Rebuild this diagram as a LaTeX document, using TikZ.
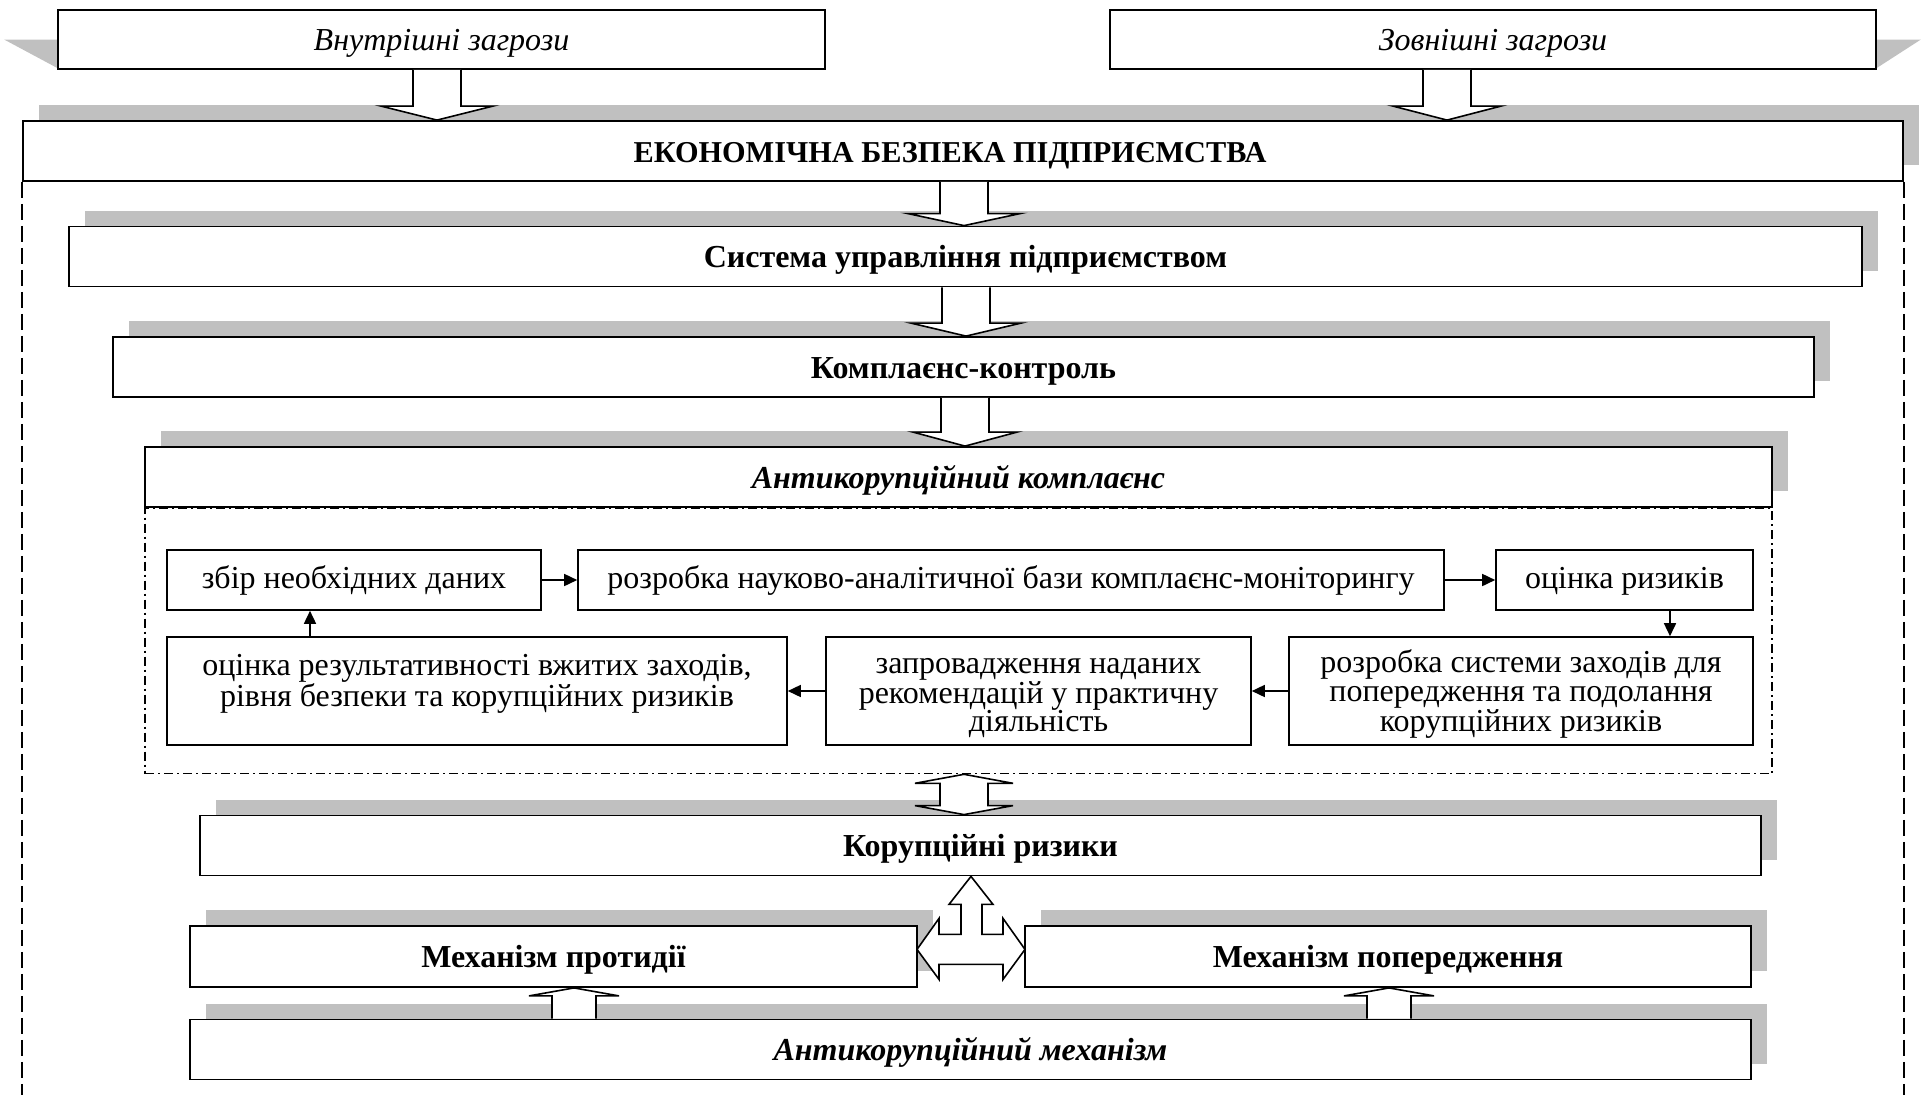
\documentclass[tikz,border=0pt]{standalone}
\usepackage{fontspec}
\setmainfont{Liberation Serif}
\usetikzlibrary{shadows,backgrounds,arrows.meta,calc}
\definecolor{shgray}{RGB}{192,192,192}

% wide block arrow pointing down, from the bottom of #1 to the top of #2
% #3 centre x, #4 half stem width, #5 half head width, #6 head length
\newcommand\downblock[6]{%
  \draw[blockarrow] let \p1=(#1.south), \p2=(#2.north) in
    ({(#3-#4)*1pt},\y1) -- ({(#3-#4)*1pt},{\y2+#6pt}) -- ({(#3-#5)*1pt},{\y2+#6pt})
    -- ({#3*1pt},\y2) -- ({(#3+#5)*1pt},{\y2+#6pt}) -- ({(#3+#4)*1pt},{\y2+#6pt})
    -- ({(#3+#4)*1pt},\y1);}
% wide block arrow pointing up, from the top of #1 to the bottom of #2
\newcommand\upblock[6]{%
  \draw[blockarrow] let \p1=(#1.north), \p2=(#2.south) in
    ({(#3-#4)*1pt},\y1) -- ({(#3-#4)*1pt},{\y2-#6pt}) -- ({(#3-#5)*1pt},{\y2-#6pt})
    -- ({#3*1pt},\y2) -- ({(#3+#5)*1pt},{\y2-#6pt}) -- ({(#3+#4)*1pt},{\y2-#6pt})
    -- ({(#3+#4)*1pt},\y1);}
% wide two-headed vertical arrow between the bottom of #1 and the top of #2
\newcommand\dblblock[6]{%
  \draw[blockarrow] let \p1=(#1.south), \p2=(#2.north) in
    ({#3*1pt},\y1) -- ({(#3+#5)*1pt},{\y1-#6pt}) -- ({(#3+#4)*1pt},{\y1-#6pt})
    -- ({(#3+#4)*1pt},{\y2+#6pt}) -- ({(#3+#5)*1pt},{\y2+#6pt}) -- ({#3*1pt},\y2)
    -- ({(#3-#5)*1pt},{\y2+#6pt}) -- ({(#3-#4)*1pt},{\y2+#6pt})
    -- ({(#3-#4)*1pt},{\y1-#6pt}) -- ({(#3-#5)*1pt},{\y1-#6pt}) -- cycle;}
% taller first line, so that a block of lines sits a little lower in its box
\newcommand\firstline{\rule{0pt}{29pt}}

\begin{document}
\begin{tikzpicture}[x=1pt,y=-1pt,
  box/.style={draw, line width=1.8pt, fill=white, inner sep=0pt, align=center},
  shbox/.style={box, drop shadow={shadow xshift=16pt, shadow yshift=16pt, opacity=1, fill=shgray}},
  oneline/.style={text height=22pt, text depth=0pt},
  ftitle/.style={font=\fontsize{30.3}{34}\selectfont\bfseries, oneline},
  fbold/.style={font=\fontsize{32}{34}\selectfont\bfseries, oneline},
  fbolditalic/.style={font=\fontsize{32}{34}\selectfont\bfseries\itshape, oneline},
  fitalic/.style={font=\fontsize{32}{34}\selectfont\itshape, oneline},
  fplain/.style={font=\fontsize{32}{28.5}\selectfont},
  stage/.style={box, fplain, line width=1.6pt},
  stageone/.style={stage, text height=17pt, text depth=0pt},
  blockarrow/.style={draw=black, line width=1.6pt, fill=white, line join=miter},
  flow/.style={line width=1.6pt, -{Triangle[length=13pt,width=12pt]}},
  outerdash/.style={line width=2pt, dash pattern=on 16pt off 6pt},
  dashdot/.style={draw, line width=1.4pt, dash pattern=on 9pt off 4pt on 2pt off 4pt},
  shadetri/.style={fill=shgray, draw=none}
]
\useasboundingbox (0,0) rectangle (1927,1095);

% threats
\node[box, fitalic, minimum width=767pt, minimum height=59pt] (ein) at (441.5,39.5) {Внутрішні загрози};
\node[box, fitalic, minimum width=766pt, minimum height=59pt] (eout) at (1493,39.5) {Зовнішні загрози};
\begin{pgfonlayer}{background}
  \fill[shadetri] ($(ein.west)+(-53,0)$) -- (ein.west) -- ($(ein.south west)+(0,-2)$) -- cycle;
  \fill[shadetri] ($(eout.east)+(44,0)$) -- (eout.east) -- ($(eout.south east)+(0,-2)$) -- cycle;
\end{pgfonlayer}

% main levels
\node[shbox, ftitle, minimum width=1880pt, minimum height=60pt] (main) at (963,151) {ЕКОНОМІЧНА БЕЗПЕКА ПІДПРИЄМСТВА\hspace*{26pt}};
\node[shbox, fbold, minimum width=1793pt, minimum height=60pt] (sys) at (965.5,256.5) {Система управління підприємством};
\node[shbox, fbold, minimum width=1701pt, minimum height=60pt] (cc) at (963.5,367) {Комплаєнс-контроль};
\node[shbox, fbolditalic, minimum width=1627pt, minimum height=60pt] (akc) at (958.5,477) {Антикорупційний комплаєнс};

% outer dashed borders
\draw[outerdash] (main.south west) -- (main.south west |- 0,1095);
\draw[outerdash] (main.south east) -- (main.south east |- 0,1095);

% compliance cycle
\node[dashdot, minimum width=1627pt, minimum height=265pt, anchor=north] (frame) at (akc.south) {};
\node[stageone, minimum width=374pt, minimum height=60pt] (zbir) at (354,580) {збір необхідних даних};
\node[stageone, minimum width=866pt, minimum height=60pt] (baza) at (1011,580) {розробка науково-аналітичної бази комплаєнс-моніторингу};
\node[stageone, minimum width=257pt, minimum height=60pt] (ocr) at (1624.5,580) {оцінка ризиків};
\node[stage, minimum width=620pt, minimum height=108pt] (rez) at (477,691) {\firstline оцінка результативності вжитих заходів,\\рівня безпеки та корупційних ризиків\\\mbox{}};
\node[stage, minimum width=425pt, minimum height=108pt] (zapr) at (1038.5,691) {\firstline запровадження наданих\\рекомендацій у практичну\\діяльність};
\node[stage, minimum width=464pt, minimum height=108pt] (sist) at (1521,691) {\firstline розробка системи заходів для\\попередження та подолання\\корупційних ризиків};

% risks and mechanisms
\node[shbox, fbold, minimum width=1561pt, minimum height=60pt] (kr) at (980.5,845.5) {Корупційні ризики};
\node[shbox, fbold, minimum width=727pt, minimum height=61pt] (prot) at (553.5,956.5) {Механізм протидії};
\node[shbox, fbold, minimum width=726pt, minimum height=61pt] (pop) at (1388,956.5) {Механізм попередження};
\node[shbox, fbolditalic, minimum width=1561pt, minimum height=60pt] (mech) at (970.5,1049.5) {Антикорупційний механізм};

% cycle connectors
\draw[flow] (zbir) -- (baza);
\draw[flow] (baza) -- (ocr);
\draw[flow] (ocr.south -| 1670,0) -- (sist.north -| 1670,0);
\draw[flow] (sist) -- (zapr);
\draw[flow] (zapr) -- (rez);
\draw[flow] (rez.north -| 310,0) -- (zbir.south -| 310,0);

% block arrows
\downblock{ein}{main}{437}{24}{56}{14}
\downblock{eout}{main}{1447}{24}{54}{14}
\downblock{main}{sys}{964}{24}{56}{12}
\downblock{sys}{cc}{966}{24}{55}{13}
\downblock{cc}{akc}{965}{24}{52}{14}
\dblblock{frame}{kr}{964}{24}{49}{9}
\upblock{mech}{prot}{574}{22}{45}{8}
\upblock{mech}{pop}{1389}{22}{45}{8}
\begin{scope}[shift={(kr.south -| 971,0)}]
  \draw[blockarrow] (0,0) -- (22,28) -- (11,28) -- (11,58) -- (32,58) -- (32,42) -- (54,73)
    -- (32,103) -- (32,88) -- (-32,88) -- (-32,103) -- (-54,73) -- (-32,42) -- (-32,58)
    -- (-10,58) -- (-10,28) -- (-22,28) -- cycle;
\end{scope}
\end{tikzpicture}
\end{document}
